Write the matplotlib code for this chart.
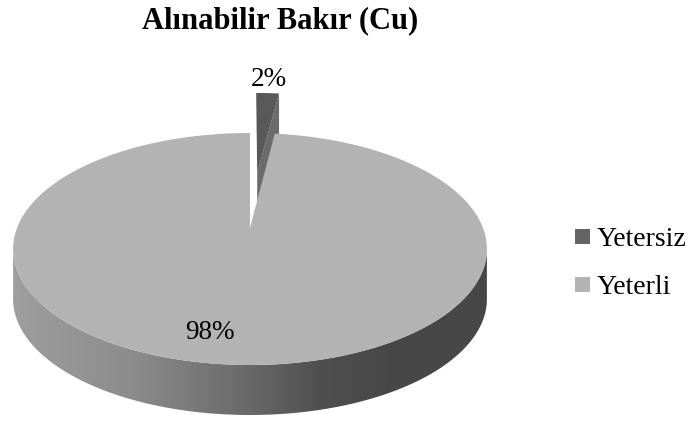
import numpy as np
import matplotlib
matplotlib.use("Agg")
import matplotlib.pyplot as plt
from matplotlib.patches import Polygon, Rectangle
from matplotlib.colors import LinearSegmentedColormap

# data
title = "Alınabilir Bakır (Cu)"
labels = ["Yetersiz", "Yeterli"]
values = [2, 98]
explode = [0.54, 0.0]

# style
top_colors = ["#595959", "#b3b3b3"]
cut_colors = ["#6b6b6b", "#8a8a8a"]
legend_colors = ["#646464", "#b3b3b3"]
serif = "Liberation Serif"

# pie geometry in pixels (simple perspective: far side smaller)
cx, cy = 250, 228
rx, ry = 233, 112.2
persp = 0.181
depth = 50


def proj(t, r=1.0, off=(0.0, 0.0), dz=0.0):
    u = r * np.cos(t) + off[0]
    v = r * np.sin(t) + off[1]
    w = 1 + persp * v
    return cx + rx * u / w, cy - ry * v / w + dz


fig = plt.figure(figsize=(6.99, 4.24), dpi=100)
ax = fig.add_axes([0, 0, 1, 1])
ax.set_xlim(0, 699)
ax.set_ylim(424, 0)
ax.axis("off")

# angles: start at 12 o'clock going clockwise (like Excel)
fracs = np.array(values, dtype=float) / sum(values)
ends = np.deg2rad(90 - 360 * np.cumsum(fracs))
starts = np.concatenate([[np.deg2rad(90)], ends[:-1]])

wall_cmap = LinearSegmentedColormap.from_list(
    "wall", [(0.0, (0.62,) * 3), (0.25, (0.55,) * 3), (0.5, (0.41,) * 3),
             (0.65, (0.31,) * 3), (0.8, (0.28,) * 3), (1.0, (0.28,) * 3)])

# silhouette angles of the outline (widest points)
t_left = np.pi + np.arcsin(persp)
t_right = 2 * np.pi - np.arcsin(persp)

order = sorted(range(len(values)), key=lambda i: -explode[i])
for i in order:
    a1, a2 = ends[i], starts[i]  # a1 < a2, ccw span
    mid = 0.5 * (a1 + a2)
    off = (explode[i] * np.cos(mid), explode[i] * np.sin(mid))
    ox, oy = proj(0.0, r=0.0, off=off)

    # outer wall, front part only
    if a2 - a1 > np.pi:
        front = np.linspace(t_left, t_right, 300)
    else:
        ts = np.linspace(a1, a2, 200) % (2 * np.pi)
        front = ts[(ts > t_left) & (ts < t_right)]
    if len(front) > 1:
        xt, yt = proj(front, off=off)
        xb, yb = proj(front[::-1], off=off, dz=depth)
        wall = Polygon(np.column_stack([np.r_[xt, xb], np.r_[yt, yb]]),
                       closed=True, facecolor="none", edgecolor="none")
        ax.add_patch(wall)
        grad = np.linspace(0, 1, 256).reshape(1, -1)
        im = ax.imshow(grad, cmap=wall_cmap, vmin=0, vmax=1, aspect="auto",
                       extent=(xt.min(), xt.max(), yb.max() + 2, yt.min() - 2),
                       interpolation="bilinear", zorder=1)
        im.set_clip_path(wall)

    # radial cut faces that face the viewer
    for a, normal in ((a1, a1 - np.pi / 2), (a2, a2 + np.pi / 2)):
        if np.sin(normal) < -1e-6:
            ex, ey = proj(a, off=off)
            face = [(ox, oy), (ex, ey), (ex, ey + depth), (ox, oy + depth)]
            ax.add_patch(Polygon(face, closed=True, facecolor=cut_colors[i],
                                 edgecolor="none", zorder=1))

    # top face
    arc = np.linspace(a1, a2, 400)
    xa, ya = proj(arc, off=off)
    pts = np.column_stack([np.r_[ox, xa], np.r_[oy, ya]])
    ax.add_patch(Polygon(pts, closed=True, facecolor=top_colors[i],
                         edgecolor="none", zorder=2))

# data labels
label_pos = [(269, 86), (210, 339)]
for v, (lx, ly) in zip(values, label_pos):
    ax.text(lx, ly, f"{v}%", ha="center", va="baseline", fontsize=19.5,
            family=serif, color="black", zorder=5)

# title
ax.text(280, 28, title, ha="center", va="baseline", fontsize=22,
        fontweight="bold", family=serif)

# legend
leg_y = [236.5, 284.5]
for lab, col, ly in zip(labels, legend_colors, leg_y):
    ax.add_patch(Rectangle((575, ly - 7.5), 15, 15, facecolor=col,
                           edgecolor="none"))
    ax.text(597, ly + 10, lab, ha="left", va="baseline", fontsize=20,
            family=serif)

fig.savefig("out.png", dpi=100)
